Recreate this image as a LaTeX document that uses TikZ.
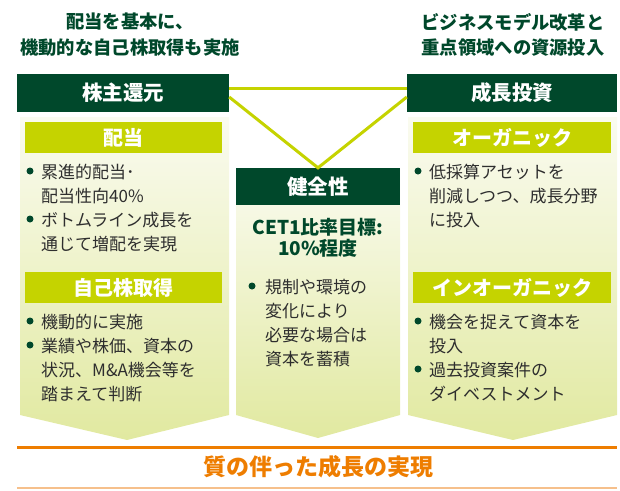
\documentclass[tikz,border=0pt]{standalone}
\usepackage{fontspec}
\setmainfont{Noto Sans CJK JP}
\usetikzlibrary{calc}
\definecolor{dkgreen}{HTML}{00482B}
\definecolor{lime}{HTML}{C5D300}
\definecolor{txtgray}{HTML}{2E2E2E}
\definecolor{orng}{HTML}{EE7D00}
\definecolor{lorng}{HTML}{F6C08C}
\definecolor{paneltop}{HTML}{FAFBF0}
\definecolor{panelbot}{HTML}{E1E9A0}
\tikzset{
  darkbox/.style={fill=dkgreen,text=white,inner sep=0pt,font=\bfseries\fontsize{20.5}{24}\selectfont},
  limebox/.style={fill=lime,text=white,inner sep=0pt,font=\bfseries\fontsize{20}{24}\selectfont},
  body/.style={text=txtgray,inner sep=0pt,anchor=west,font=\fontsize{17}{24}\selectfont},
  headtxt/.style={text=dkgreen,inner sep=0pt,font=\bfseries\fontsize{18.3}{24}\selectfont},
  dot/.style={circle,fill=dkgreen,inner sep=0pt,minimum size=7pt},
  panel/.style={top color=paneltop,bottom color=panelbot,draw=none},
  link/.style={draw=lime,line width=3pt},
}
\begin{document}
\begin{tikzpicture}[x=1pt,y=-1pt]
\useasboundingbox (0,0) rectangle (620,490);
% panels
\path[panel] (20,117) -- (229,117) -- (229,415) -- (127,440) -- (20,415) -- cycle;
\path[panel] (236,168) -- (400,168) -- (400,415) -- (318,438) -- (236,415) -- cycle;
\path[panel] (408,117) -- (617,117) -- (617,415) -- (513,440) -- (408,415) -- cycle;
% top texts
\node[headtxt] (tl1) at (130,22) {配当を基本に、};
\node[headtxt] (tl2) at (130,48) {機動的な自己株取得も実施};
\node[headtxt] (tr1) at (513,22) {ビジネスモデル改革と};
\node[headtxt] (tr2) at (513,48) {重点領域への資源投入};
% dark boxes
\node[darkbox,minimum width=212pt,minimum height=38pt] (sh) at (123,93) {株主還元};
\node[darkbox,minimum width=210pt,minimum height=38pt] (gi) at (512,93) {成長投資};
\node[darkbox,minimum width=164pt,minimum height=37pt] (kz) at (318,186.5) {健全性};
% connectors
\coordinate (shh) at ($(sh.east)+(0,-5)$);
\coordinate (gih) at ($(gi.west)+(0,-5)$);
\coordinate (shv) at ($(sh.east)+(0,4)$);
\coordinate (giv) at ($(gi.west)+(0,4)$);
\draw[link] (shh) -- (gih);
\draw[link,line join=miter] (shv) -- (kz.north) -- (giv);
% left column
\node[limebox,minimum width=197pt,minimum height=31pt] (hd) at (123.5,137.5) {配当};
\node[dot] (b1) at (30,171) {};
\node[body] (l1) at (41,172) {累進的配当･};
\node[body] (l2) at (41,196) {配当性向40\%};
\node[dot] (b2) at (30,219) {};
\node[body] (l3) at (41,220) {ボトムライン成長を};
\node[body] (l4) at (41,244) {通じて増配を実現};
\node[limebox,minimum width=197pt,minimum height=31pt] (hb) at (123.5,287.5) {自己株取得};
\node[dot] (b3) at (30,321) {};
\node[body] (l5) at (41,322) {機動的に実施};
\node[dot] (b4) at (30,345) {};
\node[body] (l6) at (41,346) {業績や株価、資本の};
\node[body] (l7) at (41,370) {状況、M\&A機会等を};
\node[body] (l8) at (41,394) {踏まえて判断};
% center column
\node[headtxt,font=\bfseries\fontsize{19}{24}\selectfont] (c1) at (318,227) {CET1比率目標:};
\node[headtxt,font=\bfseries\fontsize{19}{24}\selectfont] (c2) at (318,248) {10\%程度};
\node[dot] (b5) at (252,286) {};
\node[body] (m1) at (265,287) {規制や環境の};
\node[body] (m2) at (265,311) {変化により};
\node[body] (m3) at (265,335) {必要な場合は};
\node[body] (m4) at (265,359) {資本を蓄積};
% right column
\node[limebox,minimum width=198pt,minimum height=31pt] (ho) at (512,137.5) {オーガニック};
\node[dot] (b6) at (418,171) {};
\node[body] (r1) at (429,172) {低採算アセットを};
\node[body] (r2) at (429,196) {削減しつつ、成長分野};
\node[body] (r3) at (429,220) {に投入};
\node[limebox,minimum width=198pt,minimum height=31pt] (hi) at (512,287.5) {インオーガニック};
\node[dot] (b7) at (418,321) {};
\node[body] (r4) at (429,322) {機会を捉えて資本を};
\node[body] (r5) at (429,346) {投入};
\node[dot] (b8) at (418,369) {};
\node[body] (r6) at (429,370) {過去投資案件の};
\node[body] (r7) at (429,394) {ダイベストメント};
% bottom
\coordinate (ol) at (17,447);
\coordinate (or) at (617,447);
\draw[orng,line width=3pt] (ol) -- (or);
\coordinate (bl) at (17,488);
\coordinate (br) at (617,488);
\draw[lorng,line width=1.5pt] (bl) -- (br);
\node[text=orng,inner sep=0pt,font=\bfseries\fontsize{23}{26}\selectfont] (goal) at (318,467) {質の伴った成長の実現};
\end{tikzpicture}
\end{document}
